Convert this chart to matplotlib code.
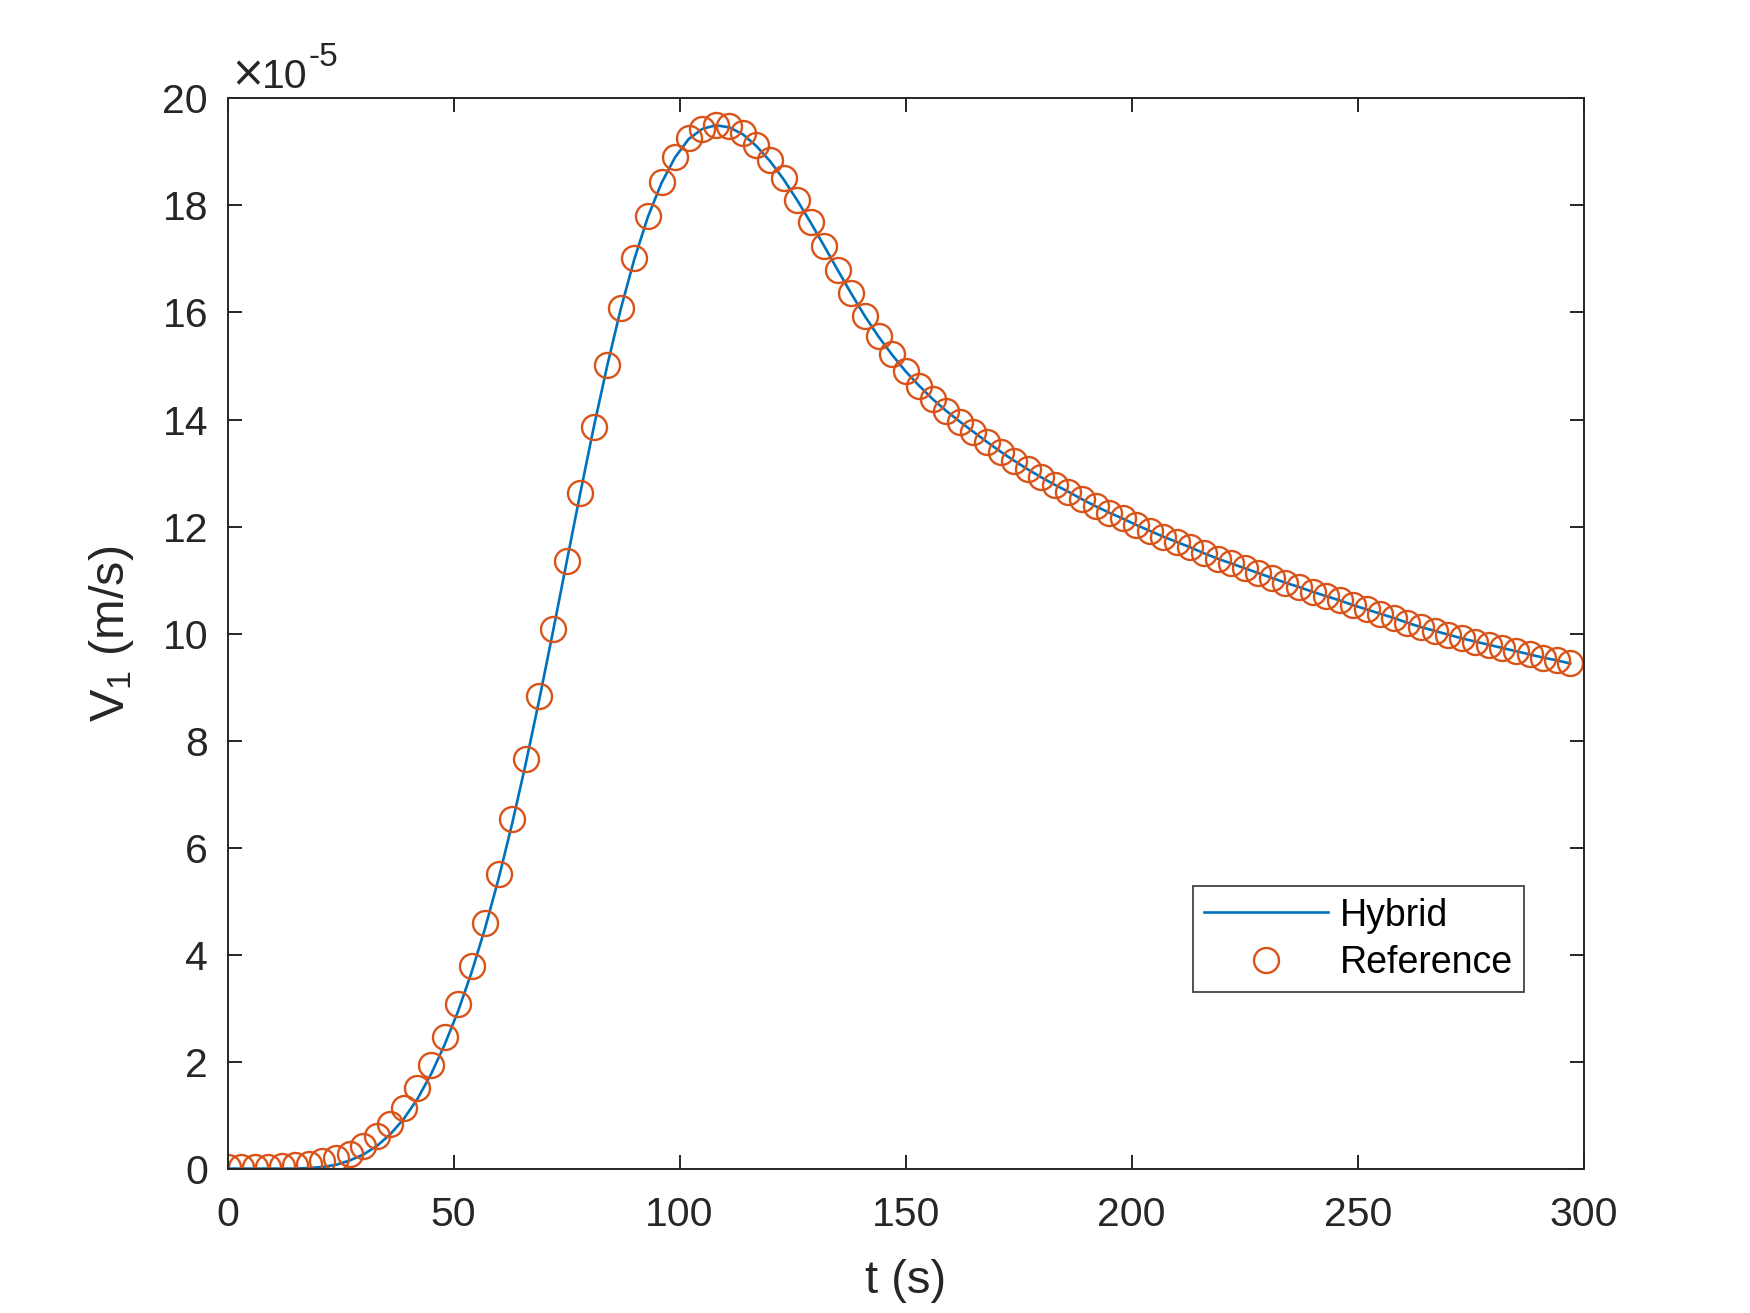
import matplotlib
matplotlib.use("Agg")
import matplotlib.pyplot as plt
import numpy as np

plt.rcParams['font.family'] = ['Liberation Sans', 'DejaVu Sans']
plt.rcParams['mathtext.fontset'] = 'custom'
plt.rcParams['mathtext.rm'] = 'Liberation Sans'
plt.rcParams['mathtext.it'] = 'Liberation Sans'

# time samples (s)
t = np.arange(0, 300, 3)

# Reference solution (x1e-5 m/s)
reference = [
    0.03, 0.02, 0.02, 0.02, 0.04, 0.06, 0.09, 0.14, 0.19, 0.28,
    0.42, 0.60, 0.84, 1.14, 1.50, 1.94, 2.46, 3.07, 3.78, 4.59,
    5.51, 6.54, 7.66, 8.84, 10.08, 11.36, 12.63, 13.86, 15.02, 16.08,
    17.01, 17.80, 18.43, 18.91, 19.26, 19.43, 19.51, 19.48, 19.35, 19.13,
    18.85, 18.51, 18.11, 17.70, 17.25, 16.80, 16.36, 15.94, 15.57, 15.22,
    14.90, 14.63, 14.38, 14.16, 13.96, 13.77, 13.58, 13.40, 13.23, 13.07,
    12.92, 12.78, 12.65, 12.51, 12.38, 12.26, 12.15, 12.03, 11.92, 11.81,
    11.71, 11.61, 11.50, 11.40, 11.31, 11.22, 11.13, 11.04, 10.95, 10.87,
    10.78, 10.70, 10.62, 10.53, 10.45, 10.37, 10.29, 10.20, 10.12, 10.05,
    9.98, 9.91, 9.85, 9.79, 9.73, 9.67, 9.61, 9.55, 9.50, 9.44,
]

# Hybrid solution (x1e-5 m/s)
hybrid = [
    0.00, 0.00, 0.00, 0.00, 0.00, 0.00, 0.01, 0.03, 0.07, 0.15,
    0.26, 0.42, 0.64, 0.93, 1.30, 1.76, 2.31, 2.94, 3.67, 4.50,
    5.43, 6.46, 7.58, 8.78, 10.04, 11.33, 12.61, 13.85, 15.01, 16.07,
    17.00, 17.79, 18.42, 18.90, 19.24, 19.43, 19.50, 19.46, 19.33, 19.11,
    18.83, 18.49, 18.10, 17.68, 17.24, 16.79, 16.35, 15.93, 15.55, 15.21,
    14.90, 14.63, 14.38, 14.16, 13.96, 13.77, 13.58, 13.40, 13.23, 13.07,
    12.92, 12.78, 12.65, 12.51, 12.38, 12.26, 12.15, 12.03, 11.92, 11.81,
    11.71, 11.61, 11.50, 11.40, 11.31, 11.22, 11.13, 11.04, 10.95, 10.87,
    10.78, 10.70, 10.62, 10.53, 10.45, 10.37, 10.29, 10.20, 10.12, 10.05,
    9.98, 9.91, 9.85, 9.79, 9.73, 9.67, 9.61, 9.55, 9.50, 9.44,
]

xticks = [0, 50, 100, 150, 200, 250, 300]
yticks = [0, 2, 4, 6, 8, 10, 12, 14, 16, 18, 20]

blue = '#0072BD'
orange = '#D95319'
axcol = '#262626'

fig = plt.figure(figsize=(17.5, 13.13), dpi=100)
ax = fig.add_axes([0.13, 0.11, 0.775, 0.815])

ax.plot(t, hybrid, color=blue, lw=1.9, label='Hybrid')
ax.plot(t, reference, linestyle='none', marker='o', ms=18, mfc='none',
        mec=orange, mew=1.7, label='Reference')

ax.set_xlim(0, 300)
ax.set_ylim(0, 20)
ax.set_xticks(xticks)
ax.set_yticks(yticks)
ax.tick_params(direction='in', length=10, width=1.4, colors=axcol,
               labelsize=29.5, top=True, right=True)
ax.tick_params(axis='x', pad=20)
ax.tick_params(axis='y', pad=14)
for s in ax.spines.values():
    s.set_color(axcol)
    s.set_linewidth(1.4)

ax.set_xlabel('t (s)', fontsize=34, color=axcol, labelpad=18)
ax.set_ylabel(r'V$\mathregular{_1}$ (m/s)', fontsize=35, color=axcol, labelpad=19)

# exponent label
ax.annotate('\u00d7', xy=(0, 1), xycoords='axes fraction', xytext=(2, 2),
            textcoords='offset points', fontsize=30, color=axcol,
            family='DejaVu Sans', ha='left', va='bottom')
ax.annotate('10', xy=(0, 1), xycoords='axes fraction', xytext=(25, 2),
            textcoords='offset points', fontsize=29.5, color=axcol,
            ha='left', va='bottom')
ax.annotate('-5', xy=(0, 1), xycoords='axes fraction', xytext=(58, 18),
            textcoords='offset points', fontsize=24, color=axcol,
            ha='left', va='bottom')

leg = ax.legend(loc='lower left', bbox_to_anchor=(0.712, 0.165), borderaxespad=0,
                fontsize=27, frameon=True, fancybox=False, edgecolor=axcol,
                handlelength=3.3, handletextpad=0.3, borderpad=0.3,
                labelspacing=0.3)
leg.get_frame().set_linewidth(1.4)
for txt in leg.get_texts():
    txt.set_color('black')

fig.savefig('out.png', dpi=100, facecolor='white')
